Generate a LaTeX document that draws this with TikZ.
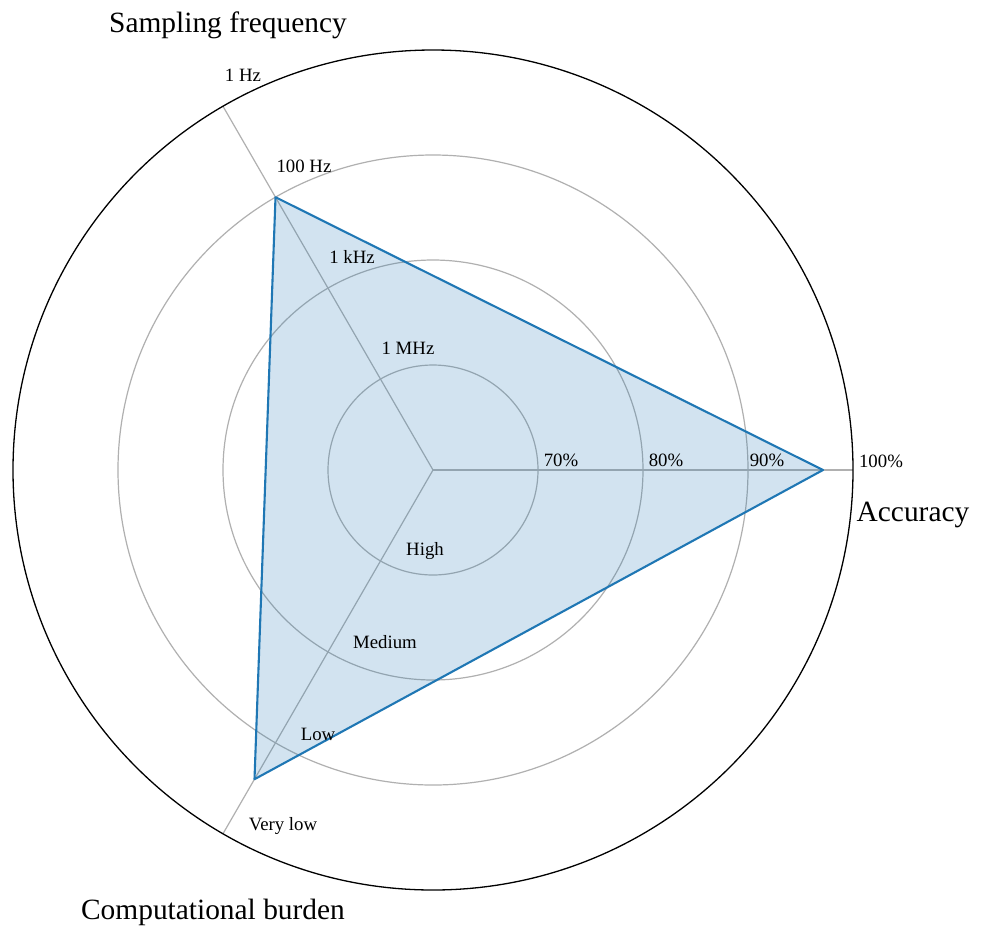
\documentclass[tikz,border=0pt]{standalone}
\usepackage{fontspec}
\setmainfont{Liberation Serif}
\definecolor{mplblue}{HTML}{1F77B4}
\definecolor{gridgray}{HTML}{B0B0B0}
\tikzset{
  gridline/.style={draw=gridgray, line width=1.2pt},
  ticklbl/.style={font=\fontsize{18.8}{20}\selectfont, inner sep=0pt},
  axtitle/.style={font=\fontsize{29.4}{32}\selectfont, inner sep=0pt},
}
\begin{document}
\begin{tikzpicture}[x=1pt,y=-1pt]
\useasboundingbox[fill=white] (0,0) rectangle (982,927);
\coordinate (C) at (433,470);
\coordinate (eA) at (853,470);
\coordinate (eS) at (223,106.3);
\coordinate (eB) at (223,833.7);
\coordinate (pA) at (823,470);
\coordinate (pS) at (275.5,197.2);
\coordinate (pB) at (254.5,779.2);
% grid
\draw[gridline] (C) circle[radius=105pt];
\draw[gridline] (C) circle[radius=210pt];
\draw[gridline] (C) circle[radius=315pt];
\draw[gridline] (C) -- (eA);
\draw[gridline] (C) -- (eS);
\draw[gridline] (C) -- (eB);
\draw[black, line width=1.3pt] (C) circle[radius=420pt];
% data
\fill[mplblue, fill opacity=0.2] (pA) -- (pS) -- (pB) -- cycle;
\draw[mplblue, line width=2.1pt, line join=round] (pA) -- (pS) -- (pB) -- cycle;
% tick labels
\node[ticklbl] (a70) at (561,460) {70\%};
\node[ticklbl] (a80) at (666,460) {80\%};
\node[ticklbl] (a90) at (767,460) {90\%};
\node[ticklbl] (a100) at (881,461) {100\%};
\node[ticklbl] (s1) at (408,348) {1 MHz};
\node[ticklbl] (s2) at (352,257) {1 kHz};
\node[ticklbl] (s3) at (304,166) {100 Hz};
\node[ticklbl] (s4) at (243,75) {1 Hz};
\node[ticklbl] (b1) at (425,551) {High};
\node[ticklbl] (b2) at (385,642) {Medium};
\node[ticklbl] (b3) at (318,734) {Low};
\node[ticklbl] (b4) at (283,826) {Very low};
% axis titles
\node[axtitle] (tS) at (228,25) {Sampling frequency};
\node[axtitle] (tA) at (913,515) {Accuracy};
\node[axtitle] (tB) at (213,912) {Computational burden};
\end{tikzpicture}
\end{document}
